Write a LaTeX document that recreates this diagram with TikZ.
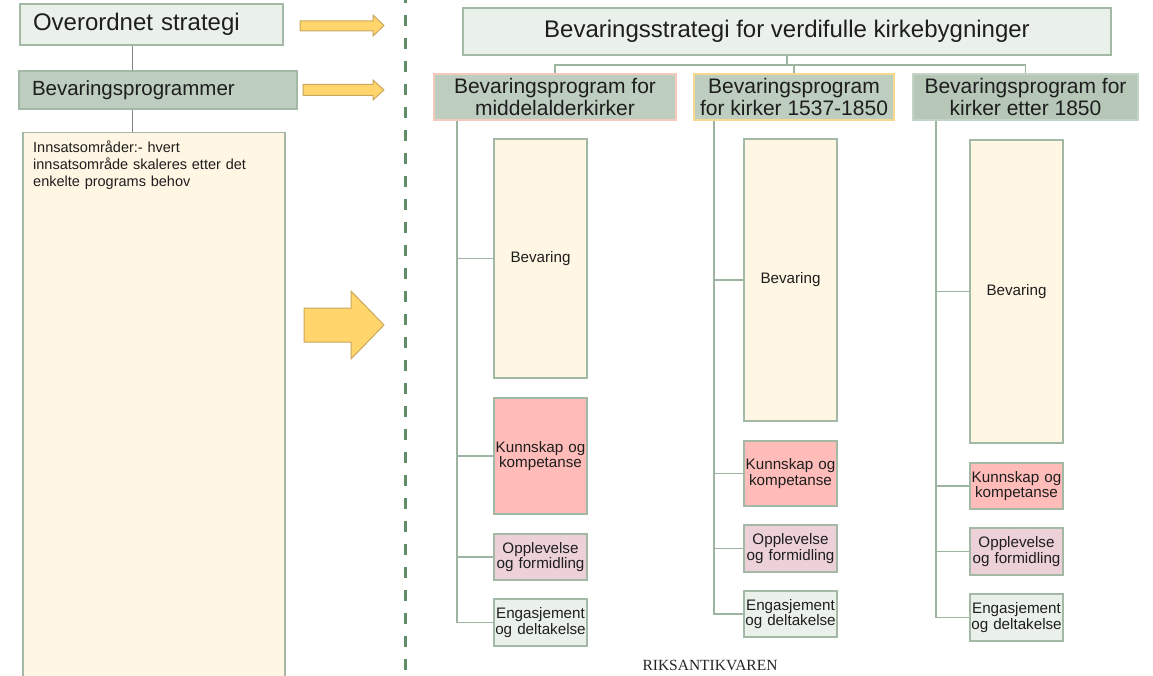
\documentclass[tikz,border=0pt]{standalone}
\usepackage{fontspec}
\setmainfont{Liberation Sans}
\newfontfamily\rfserif{Liberation Serif}
\definecolor{fillLight}{HTML}{EAF1EA}
\definecolor{borderG}{HTML}{A3B9A5}
\definecolor{fillMid}{HTML}{BDCDBF}
\definecolor{fillMidB}{HTML}{B6C7B8}
\definecolor{cream}{HTML}{FFF6E3}
\definecolor{pinkK}{HTML}{FFBCB9}
\definecolor{pinkO}{HTML}{EDD1D9}
\definecolor{connG}{HTML}{9DB5A0}
\definecolor{dashG}{HTML}{5E8D68}
\definecolor{arrowY}{HTML}{FFD56C}
\definecolor{arrowB}{HTML}{C9A85C}
\definecolor{pOneB}{HTML}{F5C9BC}
\definecolor{pTwoB}{HTML}{F6D98E}
\definecolor{pThreeB}{HTML}{C3D3C5}
\definecolor{txt}{HTML}{1E1E1E}
\begin{document}
\begin{tikzpicture}[x=1pt,y=-1pt,
  box/.style={draw=borderG, line width=1.5pt, inner sep=0pt, text=txt},
  smallbox/.style={box, minimum width=93pt, text width=93pt, align=center, font=\fontsize{15.2}{15.6}\selectfont},
  pbox/.style={box, fill=fillMid, minimum height=46pt, align=center, font=\fontsize{21}{22}\selectfont},
  conn/.style={draw=connG, line width=1.8pt},
  lconn/.style={draw=gray, line width=1pt},
  yarrow/.style={fill=arrowY, draw=arrowB, line width=1pt, line join=miter}]
\useasboundingbox (0,0) rectangle (1153,676);
\clip (0,0) rectangle (1153,676);
\fill[white] (0,0) rectangle (1153,676);

% left column
\node[box, fill=fillLight, minimum height=41pt, text width=237pt, inner xsep=13pt, align=left,
      font=\fontsize{24}{26}\selectfont] (ov) at (151.5,24.5) {Overordnet strategi};
\node[box, fill=fillMid, minimum height=38pt, text width=252pt, inner xsep=13pt, align=left,
      font=\fontsize{20.5}{22}\selectfont] (bp) at (158,90) {Bevaringsprogrammer};
\node[box, fill=cream, minimum width=262pt, minimum height=546pt, anchor=north west] (inn) at (22,132) {};
\node[anchor=north west, inner sep=0pt, text width=245pt, align=left, text=txt,
      font=\fontsize{14.5}{17}\selectfont] (innt) at (33,141)
      {Innsatsområder:- hvert\\innsatsområde skaleres etter det\\enkelte programs behov};
\draw[lconn] ([xshift=-19.5pt]ov.south) -- ([xshift=-19.5pt]ov.south |- bp.north);
\draw[lconn] ([xshift=-26pt]bp.south) -- ([xshift=-26pt]bp.south |- inn.north);

% yellow arrows
\draw[yarrow] (300,21) -- (373,21) -- (373,15) -- (384,25.5) -- (373,36) -- (373,31) -- (300,31) -- cycle;
\draw[yarrow] (303,84.5) -- (373,84.5) -- (373,80) -- (384,90) -- (373,100) -- (373,95.5) -- (303,95.5) -- cycle;
\draw[yarrow] (304,308) -- (351,308) -- (351,291) -- (384,325) -- (351,359) -- (351,342) -- (304,342) -- cycle;

% dashed divider
\draw[dashG, line width=3pt, dash pattern=on 11pt off 12pt, dash phase=8pt] (405,0) -- (405,676);

% right side
\node[box, fill=fillLight, minimum width=648pt, minimum height=47pt,
      font=\fontsize{24}{26}\selectfont] (top) at (787,31.5) {Bevaringsstrategi for verdifulle kirkebygninger};
\node[pbox, draw=pOneB, minimum width=242pt] (p1) at (555,97) {Bevaringsprogram for\\middelalderkirker};
\node[pbox, draw=pTwoB, minimum width=200pt] (p2) at (794,97) {Bevaringsprogram\\for kirker 1537-1850};
\node[pbox, draw=pThreeB, fill=fillMidB, minimum width=225pt] (p3) at (1025.5,97) {Bevaringsprogram for\\kirker etter 1850};

\coordinate (hb) at ([yshift=-9pt]top.south);
\draw[conn] (top.south) -- (hb);
\draw[conn] (p1.north) |- (hb) -| (p3.north);
\draw[conn] (p2.north) -- (p2.north |- hb);

% column 1
\node[smallbox, fill=cream, minimum height=239pt] (b1) at (540.5,258.5) {Bevaring};
\node[smallbox, fill=pinkK, minimum height=116pt] (k1) at (540.5,456) {Kunnskap og\\kompetanse};
\node[smallbox, fill=pinkO, minimum height=46pt] (o1) at (540.5,557) {Opplevelse\\og formidling};
\node[smallbox, fill=fillLight, minimum height=47pt] (e1) at (540.5,622.5) {Engasjement\\og deltakelse};
\coordinate (s1) at ([xshift=24pt]p1.south west);
\draw[conn] (s1) |- (e1.west);
\draw[conn] (b1.west) -- (b1.west -| s1);
\draw[conn] (k1.west) -- (k1.west -| s1);
\draw[conn] (o1.west) -- (o1.west -| s1);

% column 2
\node[smallbox, fill=cream, minimum height=282pt] (b2) at (790.5,280) {Bevaring};
\node[smallbox, fill=pinkK, minimum height=65pt] (k2) at (790.5,473.5) {Kunnskap og\\kompetanse};
\node[smallbox, fill=pinkO, minimum height=47pt] (o2) at (790.5,548.5) {Opplevelse\\og formidling};
\node[smallbox, fill=fillLight, minimum height=46pt] (e2) at (790.5,614) {Engasjement\\og deltakelse};
\coordinate (s2) at ([xshift=21pt]p2.south west);
\draw[conn] (s2) |- (e2.west);
\draw[conn] (b2.west) -- (b2.west -| s2);
\draw[conn] (k2.west) -- (k2.west -| s2);
\draw[conn] (o2.west) -- (o2.west -| s2);

% column 3
\node[smallbox, fill=cream, minimum height=303pt] (b3) at (1016.5,291.5) {Bevaring};
\node[smallbox, fill=pinkK, minimum height=46pt] (k3) at (1016.5,486) {Kunnskap og\\kompetanse};
\node[smallbox, fill=pinkO, minimum height=47pt] (o3) at (1016.5,551.5) {Opplevelse\\og formidling};
\node[smallbox, fill=fillLight, minimum height=47pt] (e3) at (1016.5,617.5) {Engasjement\\og deltakelse};
\coordinate (s3) at ([xshift=24pt]p3.south west);
\draw[conn] (s3) |- (e3.west);
\draw[conn] (b3.west) -- (b3.west -| s3);
\draw[conn] (k3.west) -- (k3.west -| s3);
\draw[conn] (o3.west) -- (o3.west -| s3);

\node[font=\rfserif\fontsize{15.5}{15.5}\selectfont, text=black!85] (rk) at (710,665) {RIKSANTIKVAREN};
\end{tikzpicture}
\end{document}
